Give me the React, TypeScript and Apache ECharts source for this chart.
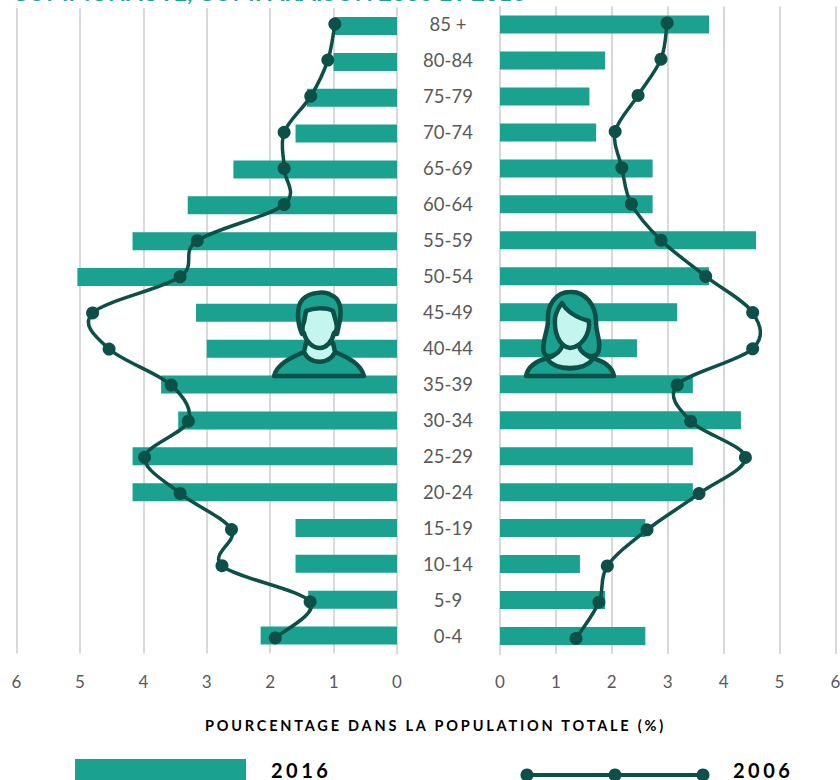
import React, { useEffect, useRef } from "react";
import * as echarts from "echarts";

const categories = ["85 +","80-84","75-79","70-74","65-69","60-64","55-59","50-54","45-49","40-44","35-39","30-34","25-29","20-24","15-19","10-14","5-9","0-4"];
const men2016 = [1.0,1.0,1.42,1.6,2.58,3.3,4.17,5.04,3.17,3.0,3.72,3.45,4.17,4.17,1.6,1.6,1.4,2.15];
const women2016 = [3.74,1.88,1.6,1.72,2.73,2.73,4.58,3.74,3.17,2.45,3.45,4.31,3.45,3.45,2.6,1.43,1.88,2.6];
const men2006 = [0.98,1.09,1.36,1.78,1.78,1.78,3.15,3.42,4.8,4.54,3.56,3.29,3.98,3.42,2.61,2.76,1.37,1.92];
const women2006 = [2.99,2.88,2.47,2.06,2.18,2.35,2.88,3.68,4.52,4.52,3.17,3.41,4.39,3.56,2.63,1.92,1.77,1.36];

const TEAL = "#1aa18f";
const DARK = "#0d5048";
const LIGHT = "#c5f5ef";
const GREY = "#595959";
const FONT = "Lato";

const shapes: Record<string, string> = {
  manShirt: "M274 376 C277 364 290 358 304 352 C310 365 329 365 335 352 C349 358 361 364 364 376 Z",
  manNeck: "M306 343 L304 352 C310 365 329 365 335 352 L333 343 Z",
  manHair: "M302 334 C297 322 296 306 303 299 C310 292 325 291 331 295 C339 298 342 306 340 320 L337 334 Z",
  manFace: "M304 322 L306 311 C313 308 326 307 333 311 L336 322 C338 328 336 332 334 333 C332 342 326 348 320 348 C313 348 306 342 304 333 C302 332 302 326 304 322 Z",
  womanShirt: "M526 376 C528 367 535 361 548 358 C556 372 584 372 592 358 C604 361 612 367 614 376 Z",
  womanChest: "M547 359 C556 371 584 371 593 359 C586 355 580 352 579 346 L562 346 C561 352 554 356 547 359 Z",
  womanHair: "M570 292 C585 291 596 305 596 322 C596 335 602 342 598 353 C592 360 582 354 578 348 L562 348 C558 354 548 360 544 353 C541 342 548 332 548 320 C547 305 556 292 570 292 Z",
  womanFace: "M562 303 C567 312 578 318 589 321 C590 334 582 347 570 348 C558 346 554 331 555 318 C556 312 559 307 562 303 Z",
};
Object.entries(shapes).forEach(([n, d]) => {
  echarts.graphic.registerShape(n, echarts.graphic.extendPath(d as any, {}) as any);
});

const icon = (type: string, fill: string) => ({
  type, x: 0, y: 0, z: 50,
  style: { fill, stroke: DARK, lineWidth: 4.5, lineJoin: "round" },
});

const xAxis = (gridIndex: number, inverse: boolean) => ({
  type: "value" as const, gridIndex, inverse, min: 0, max: 6, interval: 1,
  axisLine: { show: false }, axisTick: { show: false },
  axisLabel: { color: GREY, fontSize: 17, fontFamily: FONT, margin: 19 },
  splitLine: { show: true, lineStyle: { color: "#d9d9d9", width: 2 } },
});
const hiddenX = (gridIndex: number, inverse: boolean) => ({
  type: "value" as const, gridIndex, inverse, min: 0, max: 6, show: false, splitLine: { show: false },
});
const hiddenY = (gridIndex: number) => ({
  type: "category" as const, gridIndex, data: categories, inverse: true, show: false,
});

const curveSeries = (axis: number, data: number[]) => ({
  type: "custom" as const, xAxisIndex: axis, yAxisIndex: axis, z: 5, clip: false, silent: true,
  data: data.map((v, i) => [v, i]),
  encode: { x: 0, y: 1 },
  renderItem: (params: any, api: any) => {
    const i = params.dataIndex;
    if (i >= data.length - 1) return null;
    const at = (j: number) => {
      const k = Math.max(0, Math.min(data.length - 1, j));
      return api.coord([data[k], k]);
    };
    const p0 = at(i - 1), p1 = at(i), p2 = at(i + 1), p3 = at(i + 2);
    return {
      type: "bezierCurve",
      shape: {
        x1: p1[0], y1: p1[1], x2: p2[0], y2: p2[1],
        cpx1: p1[0] + (p2[0] - p0[0]) / 6, cpy1: p1[1] + (p2[1] - p0[1]) / 6,
        cpx2: p2[0] - (p3[0] - p1[0]) / 6, cpy2: p2[1] - (p3[1] - p1[1]) / 6,
      },
      style: { stroke: DARK, fill: "none", lineWidth: 3.5, lineCap: "round" },
    };
  },
});
const pointSeries = (axis: number, data: number[]) => ({
  type: "line" as const, name: "2006", xAxisIndex: axis, yAxisIndex: axis, data, z: 6,
  symbol: "circle", symbolSize: 13,
  lineStyle: { width: 0, opacity: 0 }, itemStyle: { color: DARK },
});
const barSeries = (i: number, data: number[]) => ({
  type: "bar" as const, name: "2016", xAxisIndex: i, yAxisIndex: i, data, barWidth: 18, z: 2,
  itemStyle: { color: TEAL },
});

export default function App() {
  const ref = useRef<HTMLDivElement>(null);
  useEffect(() => {
    const chart = echarts.init(ref.current!, null, { renderer: "svg" });
    chart.setOption({
      animation: false,
      backgroundColor: "#fff",
      title: {
        text: "COMMUNAUTÉ, COMPARAISON 2006 ET 2016", left: 12, top: -20.5, padding: 0,
        textStyle: { color: TEAL, fontSize: 23.5, fontWeight: "bold", fontFamily: FONT },
      },
      grid: [
        { left: 16.5, width: 380.5, top: 8.1, height: 645.4, outerBoundsMode: "none" },
        { left: 500, width: 335.4, top: 6.5, height: 647.5, outerBoundsMode: "none" },
        { left: 16.5, width: 380.5, top: 5.95, height: 650, outerBoundsMode: "none" },
        { left: 500, width: 335.4, top: 4.9, height: 651.6, outerBoundsMode: "none" },
      ],
      xAxis: [xAxis(0, true), xAxis(1, false), hiddenX(2, true), hiddenX(3, false)],
      yAxis: [
        {
          type: "category", gridIndex: 0, data: categories, inverse: true, position: "right",
          axisLine: { show: true, lineStyle: { color: "#d9d9d9", width: 2 } }, axisTick: { show: false },
          axisLabel: { show: false },
        },
        {
          type: "category", gridIndex: 1, data: categories, inverse: true, position: "left",
          axisLine: { show: true, lineStyle: { color: "#d9d9d9", width: 2 } }, axisTick: { show: false },
          axisLabel: { color: GREY, fontSize: 18.5, fontFamily: FONT, align: "center", margin: 52, interval: 0, padding: [0, 0, 3, 0] },
        },
        hiddenY(2), hiddenY(3),
      ],
      series: [
        barSeries(0, men2016), barSeries(1, women2016),
        curveSeries(2, men2006), curveSeries(3, women2006),
        pointSeries(2, men2006), pointSeries(3, women2006),
      ],
      graphic: [
        { type: "text", x: 435.5, y: 725, style: { text: "POURCENTAGE DANS LA POPULATION TOTALE (%)", fill: "#000", font: `bold 14.5px ${FONT}`, align: "center", verticalAlign: "middle" } },
        { type: "rect", shape: { x: 75, y: 759, width: 171, height: 21 }, style: { fill: TEAL } },
        { type: "text", x: 271, y: 769.5, style: { text: "2016", fill: "#000", font: `bold 20px ${FONT}`, align: "left", verticalAlign: "middle" } },
        { type: "line", shape: { x1: 527, y1: 775, x2: 703, y2: 775 }, style: { stroke: DARK, lineWidth: 4 } },
        { type: "circle", shape: { cx: 527, cy: 775, r: 6.5 }, style: { fill: DARK } },
        { type: "circle", shape: { cx: 615, cy: 775, r: 6.5 }, style: { fill: DARK } },
        { type: "circle", shape: { cx: 703, cy: 775, r: 6.5 }, style: { fill: DARK } },
        { type: "text", x: 733, y: 769.5, style: { text: "2006", fill: "#000", font: `bold 20px ${FONT}`, align: "left", verticalAlign: "middle" } },
        icon("manShirt", TEAL), icon("manNeck", LIGHT), icon("manHair", TEAL), icon("manFace", LIGHT),
        icon("womanHair", TEAL), icon("womanShirt", TEAL), icon("womanChest", LIGHT), icon("womanFace", LIGHT),
      ],
    });
    ref.current!.querySelectorAll("text").forEach((t) => {
      const s = t.textContent || "";
      if (s.startsWith("POURCENTAGE")) t.setAttribute("letter-spacing", "2.8px");
      if (s === "2016" || s === "2006") t.setAttribute("letter-spacing", "3.5px");
    });
    return () => chart.dispose();
  }, []);
  return <div ref={ref} style={{ position: "absolute", left: 0, top: 0, width: 840, height: 780 }} />;
}
